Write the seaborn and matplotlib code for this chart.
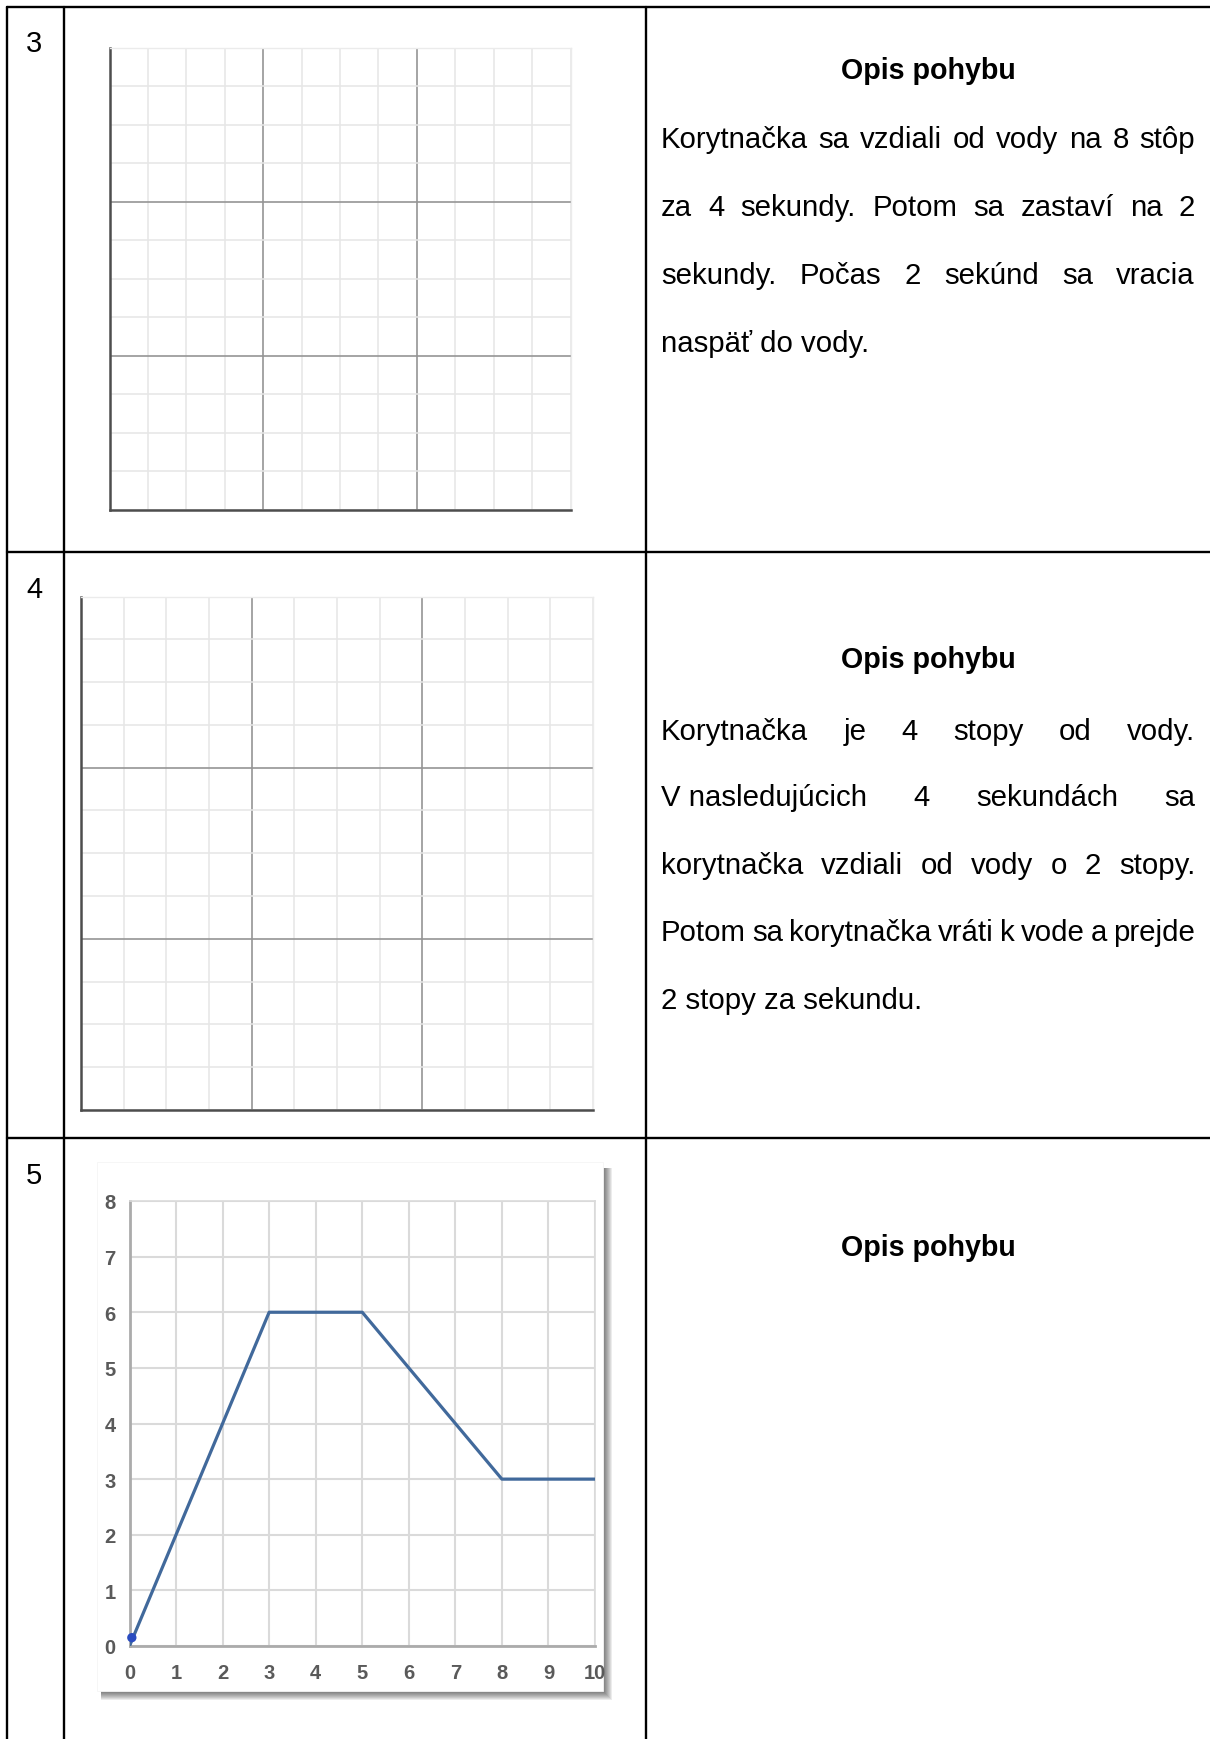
import matplotlib
matplotlib.use("Agg")
import matplotlib.pyplot as plt
import seaborn as sns
from matplotlib.lines import Line2D
from matplotlib.patches import Rectangle

# canvas size in pixels
W, H = 1210, 1740

# table content
row_numbers = ["3", "4", "5"]
heading = "Opis pohybu"
text_row3 = [
    "Korytnačka sa vzdiali od vody na 8 stôp",
    "za 4 sekundy. Potom sa zastaví na 2",
    "sekundy. Počas 2 sekúnd sa vracia",
    "naspäť do vody.",
]
text_row4 = [
    "Korytnačka je 4 stopy od vody.",
    "V\u00a0nasledujúcich 4 sekundách sa",
    "korytnačka vzdiali od vody o 2 stopy.",
    "Potom sa korytnačka vráti k vode a prejde",
    "2 stopy za sekundu.",
]

# graph in row 5
time_s = [0, 3, 5, 8, 10]
distance_ft = [0, 6, 6, 3, 3]
start_x = [0.05]
start_y = [0.15]
x_ticks = list(range(0, 11))
y_ticks = list(range(0, 9))

# empty grids in rows 3 and 4
grid_cells = 12
grid_major = [4, 8]

sns.set_style("white")
plt.rcParams["font.family"] = ["Liberation Sans", "DejaVu Sans"]
plt.rcParams["text.color"] = "black"

fig = plt.figure(figsize=(W / 100, H / 100), dpi=100)
fig.patch.set_facecolor("white")


def fx(x):
    return x / W


def fy(y):
    return 1 - y / H


def box(l, t, r, b):
    return [fx(l), fy(b), (r - l) / W, (b - t) / H]


# table rules
for y in [8, 553, 1139]:
    fig.add_artist(Line2D([fx(7), 1], [fy(y), fy(y)], color="black", lw=1.7))
for x in [7, 64, 646]:
    fig.add_artist(Line2D([fx(x), fx(x)], [fy(8), 0], color="black", lw=1.7))

FS = 21.2
FS_HEAD = 20.6

# row numbers
for num, yb in zip(row_numbers, [52, 597.5, 1183.5]):
    fig.text(fx(34), fy(yb), num, fontsize=21, ha="center", va="baseline")


def empty_grid(rect):
    ax = fig.add_axes(rect)
    ax.set_xlim(0, grid_cells)
    ax.set_ylim(0, grid_cells)
    ax.set_xticks(grid_major)
    ax.set_yticks(grid_major)
    ax.set_xticks(range(grid_cells + 1), minor=True)
    ax.set_yticks(range(grid_cells + 1), minor=True)
    ax.grid(which="minor", color="#e6e6e6", lw=1.1)
    ax.grid(which="major", color="#959595", lw=1.2)
    ax.tick_params(which="both", length=0, labelbottom=False, labelleft=False)
    for side in ["top", "right"]:
        ax.spines[side].set_color("#ebebeb")
        ax.spines[side].set_linewidth(1.0)
    for side in ["left", "bottom"]:
        ax.spines[side].set_color("#4d4d4d")
        ax.spines[side].set_linewidth(1.8)
    return ax


empty_grid(box(109.5, 49, 570.5, 510.5))
empty_grid(box(81, 597.5, 593, 1111))

# framed picture with drop shadow for row 5
fl, ft, fr, fb = 97, 1163, 603, 1692
for k in range(1, 10):
    fig.add_artist(Rectangle((fx(fl + 4), fy(fb + k)), (fr + k - fl - 4) / W,
                             (fb + k - ft - 6) / H, transform=fig.transFigure,
                             facecolor="black", alpha=0.075, lw=0, zorder=-3))
fig.add_artist(Rectangle((fx(fl), fy(fb)), (fr - fl) / W, (fb - ft) / H,
                         transform=fig.transFigure, facecolor="white",
                         edgecolor="#f5f5f5", lw=0.6, zorder=-2))

ax3 = fig.add_axes(box(129.5, 1202, 595, 1647))
sns.lineplot(x=time_s, y=distance_ft, ax=ax3, color="#41699b", lw=2.3, zorder=3)
sns.scatterplot(x=start_x, y=start_y, ax=ax3, color="#2a4cc0", s=45,
                edgecolor="none", zorder=4, clip_on=False)
ax3.set_xlim(0, 10)
ax3.set_ylim(0, 8)
ax3.set_xticks(x_ticks)
ax3.set_yticks(y_ticks)
ax3.grid(True, color="#dadada", lw=1.5)
ax3.tick_params(length=0, labelsize=14.5, labelcolor="#5a5a5a")
ax3.tick_params(axis="x", pad=12)
ax3.tick_params(axis="y", pad=10)
for lab in ax3.get_xticklabels() + ax3.get_yticklabels():
    lab.set_fontweight("bold")
for side in ["top", "right"]:
    ax3.spines[side].set_color("#dadada")
    ax3.spines[side].set_linewidth(1.2)
for side in ["left", "bottom"]:
    ax3.spines[side].set_color("#ababab")
    ax3.spines[side].set_linewidth(2.0)

# right column text
renderer = fig.canvas.get_renderer()
LEFT, RIGHT, CENTER = 661, 1195, 928


def paragraph(lines, baselines):
    for i, (line, yb) in enumerate(zip(lines, baselines)):
        words = line.split(" ")
        if i == len(lines) - 1:
            fig.text(fx(LEFT), fy(yb), line, fontsize=FS, va="baseline", ha="left")
            continue
        arts = [fig.text(0, fy(yb), w, fontsize=FS, va="baseline", ha="left")
                for w in words]
        widths = [a.get_window_extent(renderer).width for a in arts]
        gap = (RIGHT - LEFT - sum(widths)) / (len(words) - 1)
        x = LEFT
        for a, w in zip(arts, widths):
            a.set_x(fx(x))
            x += w + gap


for yb in [79, 668.5, 1256.5]:
    fig.text(fx(CENTER), fy(yb), heading, fontsize=FS_HEAD, fontweight="bold",
             ha="center", va="baseline")

paragraph(text_row3, [148.2, 216.5, 284.2, 352])
paragraph(text_row4, [740.4, 806.5, 874, 940.8, 1009])

fig.savefig("out.png", dpi=100, facecolor="white")
